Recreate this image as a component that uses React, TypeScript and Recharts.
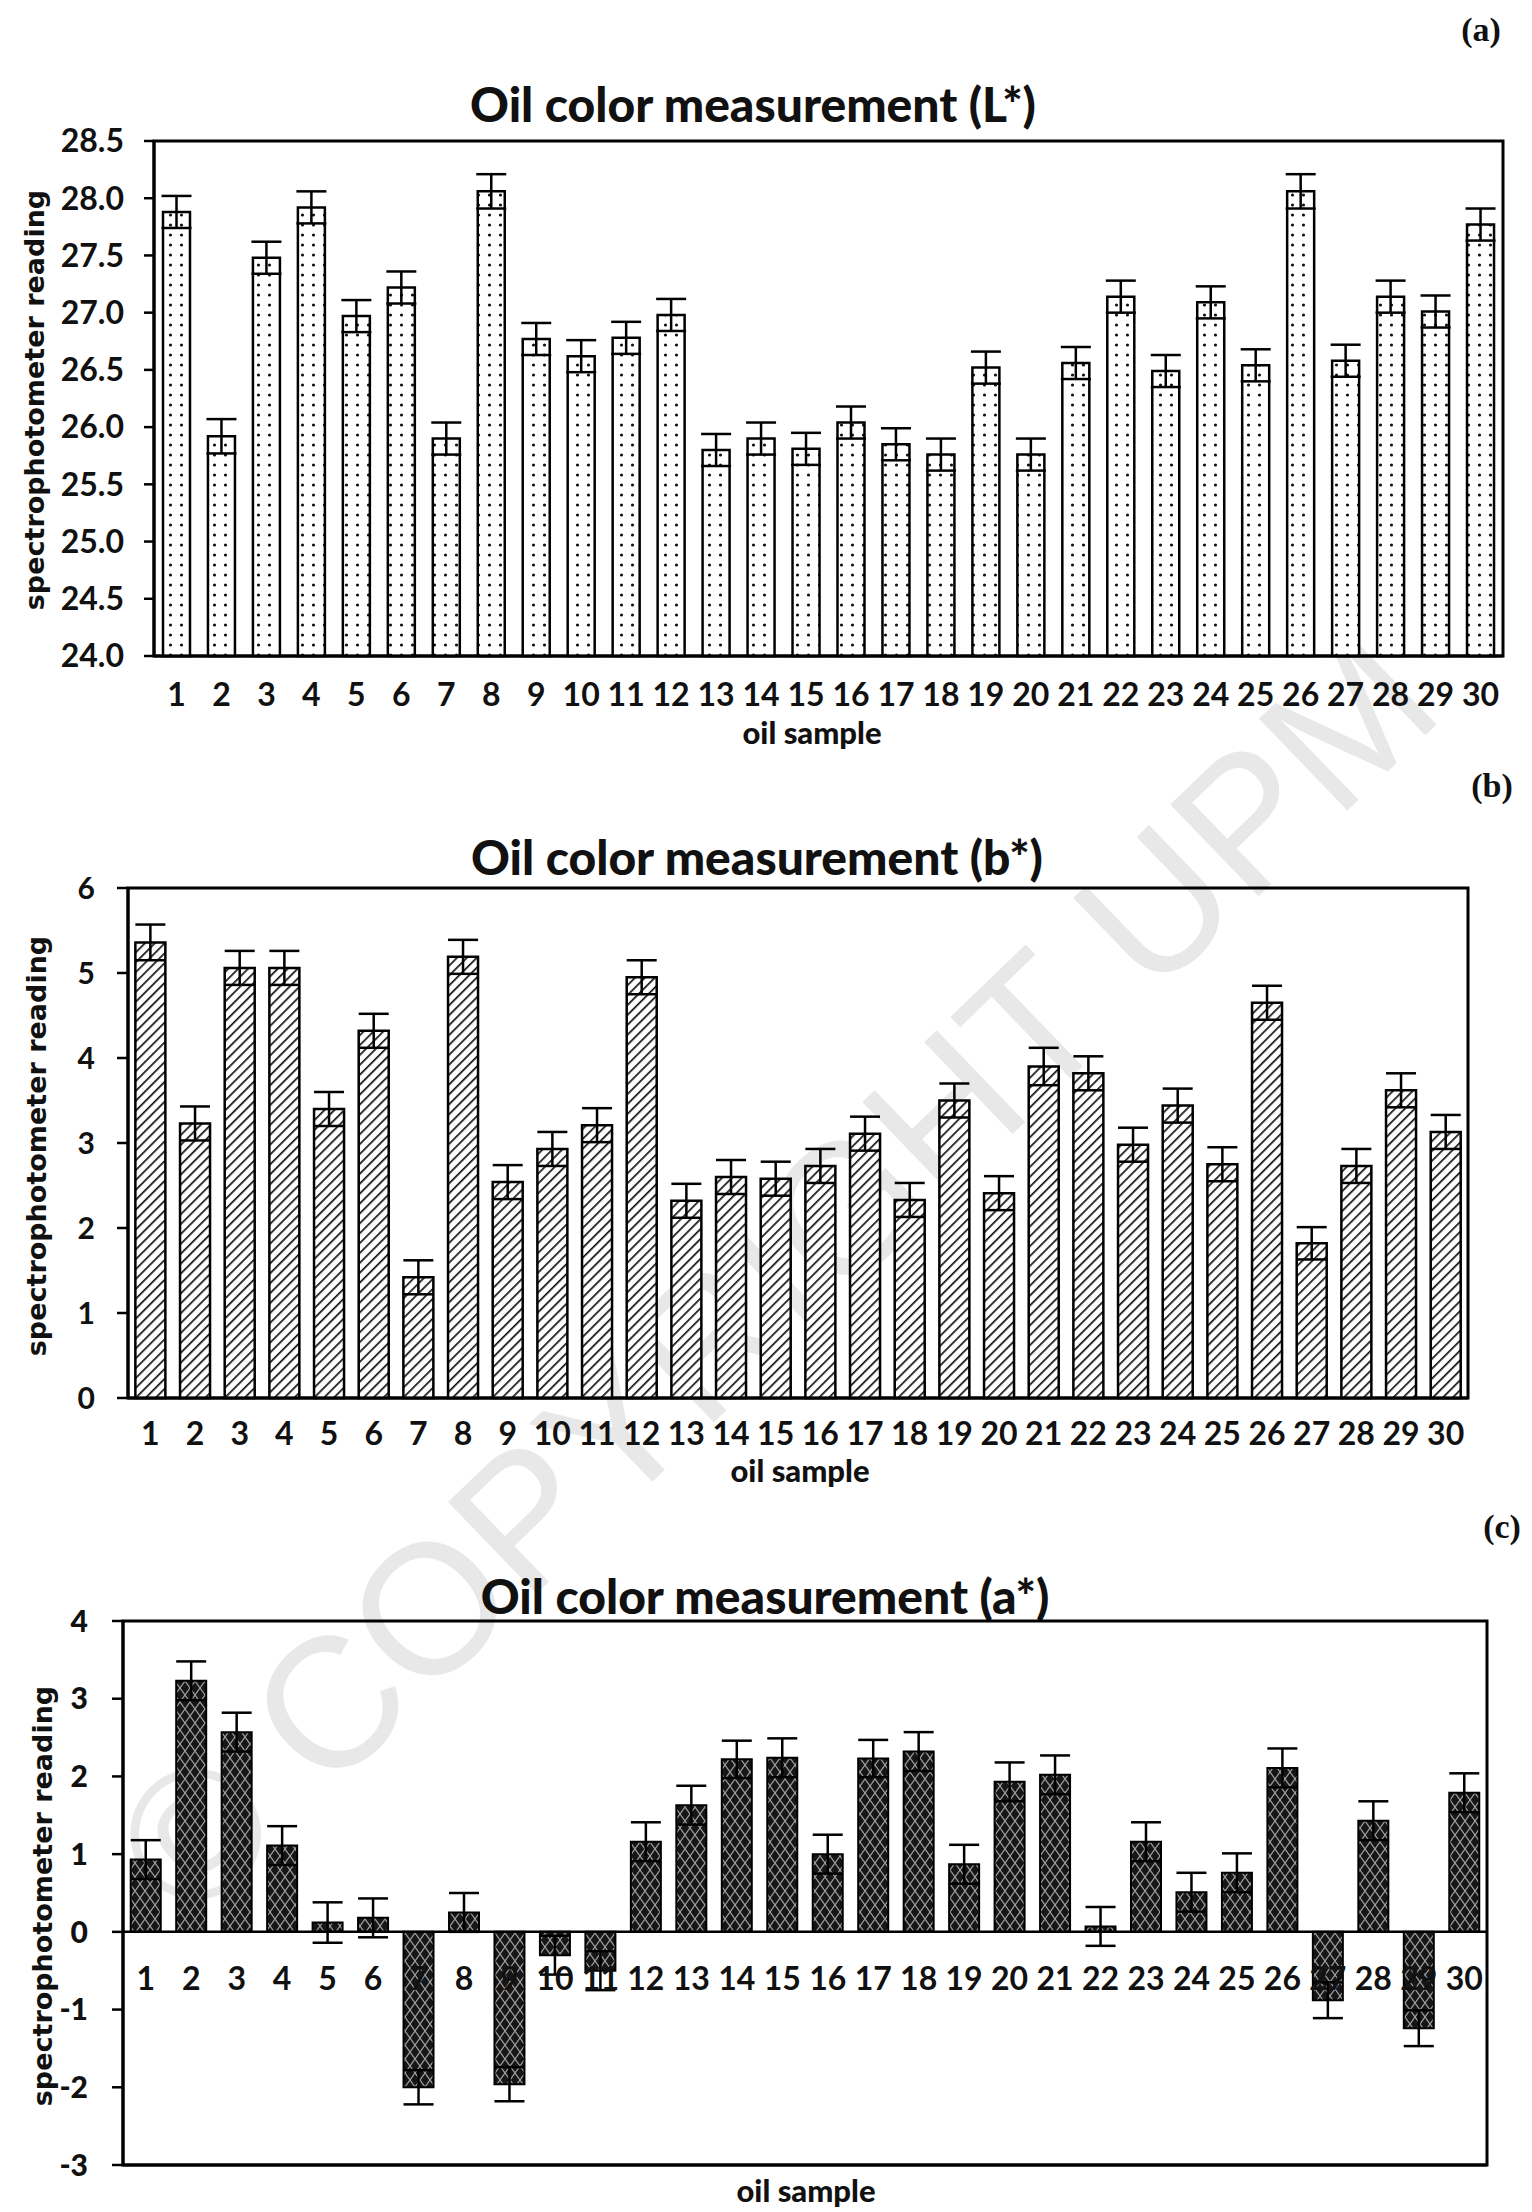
import React from "react";
import {
  BarChart,
  Bar,
  XAxis,
  YAxis,
  ErrorBar,
  ReferenceLine,
  ReferenceArea,
} from "recharts";

const samples = [
  "1", "2", "3", "4", "5", "6", "7", "8", "9", "10",
  "11", "12", "13", "14", "15", "16", "17", "18", "19", "20",
  "21", "22", "23", "24", "25", "26", "27", "28", "29", "30",
];

// (a) L*
const lValues = [
  27.88, 25.92, 27.48, 27.92, 26.97, 27.22, 25.9, 28.06, 26.77, 26.62,
  26.78, 26.98, 25.8, 25.9, 25.81, 26.04, 25.85, 25.76, 26.52, 25.76,
  26.56, 27.14, 26.49, 27.09, 26.54, 28.06, 26.58, 27.14, 27.01, 27.77,
];
const lErrors = [
  0.14, 0.15, 0.14, 0.14, 0.14, 0.14, 0.14, 0.15, 0.14, 0.14,
  0.14, 0.14, 0.14, 0.14, 0.14, 0.14, 0.14, 0.14, 0.14, 0.14,
  0.14, 0.14, 0.14, 0.14, 0.14, 0.15, 0.14, 0.14, 0.14, 0.14,
];
const lTicks = [24, 24.5, 25, 25.5, 26, 26.5, 27, 27.5, 28, 28.5];

// (b) b*
const bValues = [
  5.36, 3.23, 5.06, 5.06, 3.4, 4.32, 1.42, 5.19, 2.54, 2.93,
  3.21, 4.95, 2.32, 2.6, 2.58, 2.73, 3.11, 2.33, 3.5, 2.41,
  3.9, 3.82, 2.98, 3.44, 2.75, 4.65, 1.82, 2.73, 3.62, 3.13,
];
const bErrors = [
  0.21, 0.2, 0.2, 0.2, 0.2, 0.2, 0.2, 0.2, 0.2, 0.2,
  0.2, 0.2, 0.2, 0.2, 0.2, 0.2, 0.2, 0.2, 0.2, 0.2,
  0.22, 0.2, 0.2, 0.2, 0.2, 0.2, 0.19, 0.2, 0.2, 0.2,
];
const bTicks = [0, 1, 2, 3, 4, 5, 6];

// (c) a*
const aValues = [
  0.93, 3.23, 2.57, 1.11, 0.12, 0.18, -2.0, 0.25, -1.96, -0.3,
  -0.5, 1.16, 1.63, 2.22, 2.24, 1.0, 2.23, 2.32, 0.87, 1.93,
  2.02, 0.07, 1.16, 0.51, 0.76, 2.11, -0.88, 1.43, -1.24, 1.79,
];
const aErrors = [
  0.25, 0.25, 0.25, 0.25, 0.26, 0.25, 0.22, 0.25, 0.22, 0.25,
  0.25, 0.25, 0.25, 0.24, 0.25, 0.25, 0.24, 0.25, 0.25, 0.25,
  0.25, 0.25, 0.25, 0.25, 0.25, 0.25, 0.23, 0.25, 0.23, 0.25,
];
const aTicks = [-3, -2, -1, 0, 1, 2, 3, 4];

const lData = samples.map((s, i) => ({ sample: s, value: lValues[i], err: lErrors[i] }));
const bData = samples.map((s, i) => ({ sample: s, value: bValues[i], err: bErrors[i] }));
const aData = samples.map((s, i) => ({ sample: s, value: aValues[i], err: aErrors[i] }));

const tickFont = "Lato, 'Open Sans', sans-serif";

const Title = ({ text, x, y }: { text: string; x: number; y: number }) => (
  <div
    style={{
      position: "absolute",
      left: x,
      top: y,
      transform: "translate(-50%, -50%)",
      whiteSpace: "nowrap",
      fontFamily: tickFont,
      fontWeight: 900,
      fontSize: 48,
      lineHeight: 1,
      color: "#111",
    }}
  >
    {text}
  </div>
);

const YLabel = ({ x, y }: { x: number; y: number }) => (
  <div
    style={{
      position: "absolute",
      left: x,
      top: y,
      transform: "translate(-50%, -50%) rotate(-90deg)",
      whiteSpace: "nowrap",
      fontFamily: "'DejaVu Sans', sans-serif",
      fontWeight: 700,
      fontSize: 27,
      lineHeight: 1,
      color: "#111",
    }}
  >
    spectrophotometer reading
  </div>
);

const XLabel = ({ x, y }: { x: number; y: number }) => (
  <div
    style={{
      position: "absolute",
      left: x,
      top: y,
      transform: "translate(-50%, -50%)",
      whiteSpace: "nowrap",
      fontFamily: tickFont,
      fontWeight: 900,
      fontSize: 31,
      lineHeight: 1,
      color: "#111",
    }}
  >
    oil sample
  </div>
);

const PanelTag = ({ text, x, y }: { text: string; x: number; y: number }) => (
  <div
    style={{
      position: "absolute",
      left: x,
      top: y,
      transform: "translate(-50%, -50%)",
      fontFamily: "'Liberation Serif', serif",
      fontWeight: 700,
      fontSize: 34,
      lineHeight: 1,
      color: "#111",
    }}
  >
    {text}
  </div>
);

// x labels of (c) sit just under the zero line instead of under the plot
const ZeroLineTick = (props: any) => {
  const { x, y, payload } = props;
  return (
    <text
      x={x}
      y={y - 198}
      dy="0.71em"
      textAnchor="middle"
      fontFamily={tickFont}
      fontWeight={700}
      fontSize={32}
      fill="#111"
    >
      {payload.value}
    </text>
  );
};

const App: React.FC = () => {
  return (
    <div
      style={{
        position: "absolute",
        left: 0,
        top: 0,
        width: 1532,
        height: 2212,
        background: "#fff",
        overflow: "hidden",
      }}
    >
      {/* watermark */}
      <div
        style={{
          position: "absolute",
          left: 775,
          top: 1275,
          transform: "translate(-50%, -50%) rotate(-44deg)",
          whiteSpace: "nowrap",
          fontFamily: "'Liberation Sans', sans-serif",
          fontSize: 185,
          lineHeight: 1,
          color: "#e8e8e8",
        }}
      >
        © COPYRIGHT UPM
      </div>

      <svg width={0} height={0} style={{ position: "absolute" }}>
        <defs>
          <pattern id="dots" width={11} height={10} patternUnits="userSpaceOnUse">
            <rect width={11} height={10} fill="#fff" />
            <circle cx={5.5} cy={5} r={1.6} fill="#111" />
          </pattern>
          <pattern
            id="hatch"
            width={7}
            height={7}
            patternUnits="userSpaceOnUse"
            patternTransform="rotate(45)"
          >
            <rect width={7} height={7} fill="#fff" />
            <line x1={0} y1={0} x2={0} y2={7} stroke="#111" strokeWidth={3.4} />
          </pattern>
          <pattern id="cross" width={10} height={14} patternUnits="userSpaceOnUse">
            <rect width={10} height={14} fill="#161616" />
            <path d="M0 0 L10 14 M10 0 L0 14" stroke="#a0a0a0" strokeWidth={1.2} />
          </pattern>
        </defs>
      </svg>

      {/* (a) L* */}
      <PanelTag text="(a)" x={1481} y={30} />
      <Title text="Oil color measurement (L*)" x={753} y={104} />
      <YLabel x={34} y={400} />
      <XLabel x={812} y={732} />
      <div style={{ position: "absolute", left: 0, top: 0 }}>
        <BarChart
          width={1532}
          height={760}
          data={lData}
          margin={{ top: 141, right: 29, bottom: 44, left: 0 }}
          barCategoryGap="20%"
        >
          <XAxis
            dataKey="sample"
            height={60}
            tickLine={false}
            tickSize={0}
            tickMargin={27}
            interval={0}
            axisLine={{ stroke: "#000", strokeWidth: 3 }}
            tick={{ fontFamily: tickFont, fontWeight: 700, fontSize: 32, fill: "#111" }}
          />
          <YAxis
            width={154}
            domain={[24, 28.5]}
            ticks={lTicks}
            tickFormatter={(v: number) => v.toFixed(1)}
            tickSize={10}
            tickMargin={20}
            axisLine={{ stroke: "#000", strokeWidth: 3 }}
            tickLine={{ stroke: "#000", strokeWidth: 2.5 }}
            tick={{ fontFamily: tickFont, fontWeight: 700, fontSize: 32, fill: "#111" }}
          />
          <ReferenceArea y1={24} y2={28.5} fill="none" stroke="#000" strokeWidth={3} fillOpacity={0} />
          <Bar
            dataKey="value"
            fill="url(#dots)"
            stroke="#000"
            strokeWidth={2.5}
            isAnimationActive={false}
          >
            <ErrorBar dataKey="err" width={15} stroke="#000" strokeWidth={2.5} direction="y" />
          </Bar>
        </BarChart>
      </div>

      {/* (b) b* */}
      <PanelTag text="(b)" x={1492} y={786} />
      <Title text="Oil color measurement (b*)" x={757} y={857} />
      <YLabel x={36} y={1146} />
      <XLabel x={800} y={1470} />
      <div style={{ position: "absolute", left: 0, top: 780 }}>
        <BarChart
          width={1532}
          height={720}
          data={bData}
          margin={{ top: 108, right: 64, bottom: 42, left: 0 }}
          barCategoryGap="16.5%"
        >
          <XAxis
            dataKey="sample"
            height={60}
            tickLine={false}
            tickSize={0}
            tickMargin={24}
            interval={0}
            axisLine={{ stroke: "#000", strokeWidth: 3 }}
            tick={{ fontFamily: tickFont, fontWeight: 700, fontSize: 32, fill: "#111" }}
          />
          <YAxis
            width={128}
            domain={[0, 6]}
            ticks={bTicks}
            tickSize={11}
            tickMargin={22}
            axisLine={{ stroke: "#000", strokeWidth: 3 }}
            tickLine={{ stroke: "#000", strokeWidth: 2.5 }}
            tick={{ fontFamily: tickFont, fontWeight: 700, fontSize: 30, fill: "#111" }}
          />
          <ReferenceArea y1={0} y2={6} fill="none" stroke="#000" strokeWidth={3} fillOpacity={0} />
          <Bar
            dataKey="value"
            fill="url(#hatch)"
            stroke="#000"
            strokeWidth={2.5}
            isAnimationActive={false}
          >
            <ErrorBar dataKey="err" width={15} stroke="#000" strokeWidth={2.5} direction="y" />
          </Bar>
        </BarChart>
      </div>

      {/* (c) a* */}
      <PanelTag text="(c)" x={1502} y={1527} />
      <Title text="Oil color measurement (a*)" x={765} y={1596} />
      <YLabel x={42} y={1896} />
      <XLabel x={806} y={2190} />
      <div style={{ position: "absolute", left: 0, top: 1520 }}>
        <BarChart
          width={1532}
          height={692}
          data={aData}
          margin={{ top: 101, right: 45, bottom: 17, left: 0 }}
          barCategoryGap="17%"
        >
          <XAxis
            dataKey="sample"
            height={30}
            tickLine={false}
            tickSize={0}
            tickMargin={0}
            interval={0}
            axisLine={{ stroke: "#000", strokeWidth: 3 }}
            tick={<ZeroLineTick />}
          />
          <YAxis
            width={123}
            domain={[-3, 4]}
            ticks={aTicks}
            tickSize={11}
            tickMargin={24}
            axisLine={{ stroke: "#000", strokeWidth: 3 }}
            tickLine={{ stroke: "#000", strokeWidth: 2.5 }}
            tick={{ fontFamily: tickFont, fontWeight: 900, fontSize: 30, fill: "#111" }}
          />
          <ReferenceArea y1={-3} y2={4} fill="none" stroke="#000" strokeWidth={3} fillOpacity={0} />
          <ReferenceLine y={0} stroke="#000" strokeWidth={2.5} />
          <Bar
            dataKey="value"
            fill="url(#cross)"
            stroke="#000"
            strokeWidth={2}
            isAnimationActive={false}
          >
            <ErrorBar dataKey="err" width={15} stroke="#000" strokeWidth={2.5} direction="y" />
          </Bar>
        </BarChart>
      </div>
    </div>
  );
};

export default App;
